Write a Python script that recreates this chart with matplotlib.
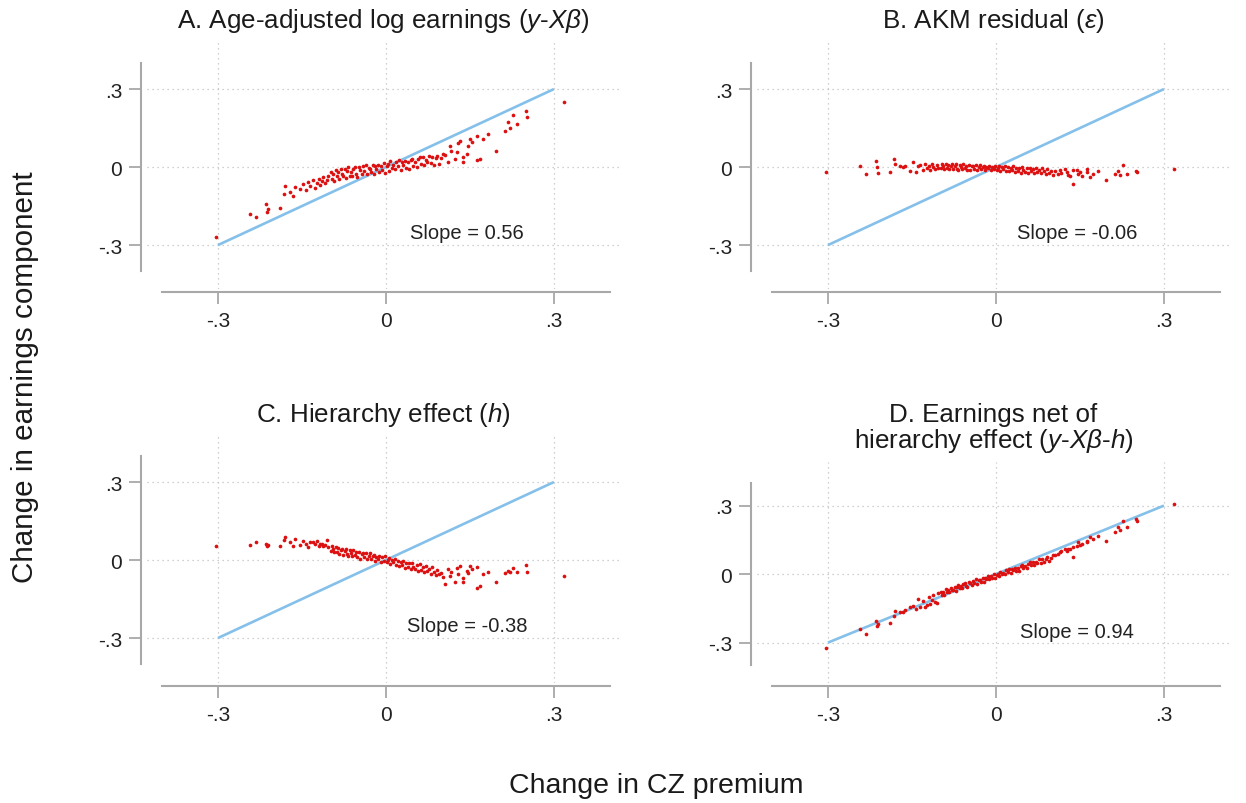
import numpy as np
import matplotlib.pyplot as plt

plt.rcParams['font.family'] = ['Liberation Sans', 'DejaVu Sans']
plt.rcParams['mathtext.fontset'] = 'custom'
plt.rcParams['mathtext.rm'] = 'Liberation Sans'
plt.rcParams['mathtext.it'] = 'Liberation Sans:italic'

# change in CZ premium (shared by all four panels)
x_premium = [
    -0.304, -0.243, -0.232, -0.214, -0.212, -0.210, -0.189, -0.182, -0.180, -0.171,
    -0.166, -0.162, -0.154, -0.148, -0.142, -0.139, -0.135, -0.131, -0.127, -0.124,
    -0.120, -0.118, -0.115, -0.112, -0.109, -0.106, -0.103,
    -0.099, -0.097, -0.094, -0.093, -0.090, -0.088, -0.086, -0.083, -0.081, -0.079,
    -0.076, -0.074, -0.072, -0.069, -0.067, -0.065, -0.062, -0.060, -0.058, -0.055,
    -0.053, -0.051, -0.048, -0.046, -0.043, -0.041, -0.039, -0.036, -0.034, -0.031,
    -0.029, -0.027, -0.024, -0.022, -0.019, -0.017, -0.014, -0.012, -0.009, -0.007,
    -0.004, -0.002, 0.001, 0.003, 0.006, 0.008, 0.011, 0.013, 0.016, 0.018,
    0.021, 0.023, 0.026, 0.028, 0.031, 0.034, 0.036, 0.039, 0.041, 0.044,
    0.047, 0.049, 0.052, 0.055, 0.057, 0.060, 0.063, 0.066, 0.068, 0.071,
    0.074, 0.077, 0.080, 0.083, 0.086, 0.089, 0.092, 0.095, 0.098, 0.101,
    0.105, 0.110, 0.114, 0.117, 0.123, 0.126, 0.129, 0.132, 0.137, 0.138,
    0.144, 0.147, 0.150, 0.153, 0.162, 0.162, 0.168, 0.174, 0.183, 0.196,
    0.212, 0.218, 0.221, 0.227, 0.234, 0.251, 0.252, 0.318,
]

# A. age-adjusted log earnings
y_age_adj = [
    -0.270, -0.181, -0.193, -0.142, -0.173, -0.160, -0.158, -0.104, -0.073, -0.096,
    -0.112, -0.077, -0.085, -0.066, -0.090, -0.058, -0.074, -0.050, -0.082, -0.060,
    -0.046, -0.069, -0.055, -0.040, -0.063, -0.048, -0.035,
    -0.020, -0.046, -0.026, -0.052, -0.011, -0.034, -0.019, -0.045, -0.006, -0.028,
    -0.034, -0.009, -0.043, -0.016, 0.001, -0.033, -0.018, -0.035, -0.008, 0.001,
    -0.025, -0.037, -0.001, -0.012, -0.027, 0.004, -0.017, 0.009, -0.028, -0.002,
    -0.008, -0.020, 0.008, -0.026, 0.004, -0.007, 0.009, -0.018, 0.003, -0.011,
    0.017, -0.021, 0.005, 0.012, -0.014, 0.023, -0.003, 0.007, -0.007, 0.021,
    0.003, 0.029, -0.010, 0.018, 0.009, 0.025, -0.003, 0.019, -0.009, 0.026,
    0.032, 0.006, 0.019, -0.001, 0.031, 0.040, 0.012, 0.037, 0.008, 0.027,
    0.018, 0.044, 0.014, 0.037, 0.008, 0.036, 0.044, 0.013, 0.034, 0.052,
    0.045, 0.020, 0.082, 0.063, 0.031, 0.057, 0.092, 0.101, 0.040, 0.018,
    0.050, 0.080, 0.108, 0.095, 0.120, 0.028, 0.031, 0.108, 0.127, 0.063,
    0.138, 0.173, 0.150, 0.200, 0.165, 0.215, 0.192, 0.251,
]

# B. AKM residual
y_akm_resid = [
    -0.020, 0.005, -0.027, 0.024, -0.001, -0.023, -0.020, 0.031, 0.012, 0.003,
    -0.001, 0.005, -0.014, 0.018, -0.018, 0.005, 0.008, -0.010, 0.012, -0.004,
    0.006, -0.012, 0.010, 0.002, -0.006, 0.008, -0.003,
    -0.004, 0.012, 0.004, -0.006, 0.012, -0.003, 0.008, -0.009, 0.006, 0.010,
    -0.009, 0.003, 0.010, -0.006, -0.011, 0.008, 0.002, -0.007, 0.011, -0.003,
    0.005, -0.010, 0.009, -0.013, 0.003, 0.005, -0.007, 0.008, -0.010, -0.001,
    0.009, -0.008, 0.000, 0.006, -0.013, 0.002, -0.005, 0.005, -0.013, 0.002,
    -0.008, 0.006, -0.011, -0.002, 0.006, -0.015, 0.001, -0.008, 0.003, -0.014,
    0.000, -0.015, -0.004, -0.012, 0.003, -0.019, -0.002, -0.014, -0.003, -0.021,
    0.000, -0.012, -0.018, -0.005, -0.023, -0.002, -0.017, -0.006, -0.022, -0.003,
    -0.018, -0.012, -0.024, -0.003, -0.017, -0.027, -0.009, -0.022, -0.016, -0.029,
    -0.015, -0.025, -0.010, -0.022, -0.008, -0.020, -0.030, -0.033, -0.012, -0.065,
    -0.012, -0.028, -0.018, -0.033, -0.020, -0.008, -0.040, -0.025, -0.014, -0.049,
    -0.027, -0.014, -0.030, 0.008, -0.027, -0.014, -0.020, -0.008,
]

# C. hierarchy effect
y_hierarchy = [
    0.053, 0.058, 0.068, 0.062, 0.053, 0.058, 0.055, 0.078, 0.087, 0.070,
    0.055, 0.081, 0.058, 0.074, 0.062, 0.049, 0.068, 0.070, 0.062, 0.074,
    0.055, 0.062, 0.060, 0.053, 0.058, 0.077, 0.049,
    0.034, 0.053, 0.042, 0.029, 0.052, 0.032, 0.045, 0.022, 0.040, 0.044,
    0.020, 0.035, 0.043, 0.022, 0.014, 0.037, 0.028, 0.016, 0.039, 0.020,
    0.029, 0.010, 0.032, 0.004, 0.023, 0.026, 0.010, 0.028, 0.004, 0.014,
    0.026, 0.003, 0.014, 0.020, -0.005, 0.013, 0.004, 0.015, -0.008, 0.011,
    -0.003, 0.014, -0.009, 0.002, 0.009, -0.017, 0.002, -0.009, 0.003, -0.019,
    -0.003, -0.023, -0.009, -0.020, -0.002, -0.030, -0.010, -0.026, -0.013, -0.036,
    -0.011, -0.027, -0.036, -0.020, -0.044, -0.017, -0.037, -0.026, -0.046, -0.024,
    -0.044, -0.036, -0.053, -0.028, -0.046, -0.059, -0.038, -0.055, -0.049, -0.066,
    -0.092, -0.035, -0.060, -0.045, -0.083, -0.030, -0.054, -0.022, -0.083, -0.070,
    -0.041, -0.050, -0.024, -0.035, -0.028, -0.109, -0.101, -0.054, -0.047, -0.086,
    -0.050, -0.041, -0.047, -0.032, -0.045, -0.019, -0.047, -0.060,
]

# D. earnings net of hierarchy effect
y_net = [
    -0.322, -0.240, -0.262, -0.205, -0.226, -0.218, -0.213, -0.182, -0.160, -0.166,
    -0.167, -0.158, -0.143, -0.140, -0.152, -0.107, -0.142, -0.120, -0.144, -0.134,
    -0.101, -0.131, -0.115, -0.093, -0.121, -0.125, -0.084,
    -0.077, -0.090, -0.077, -0.090, -0.067, -0.078, -0.068, -0.080, -0.059, -0.070,
    -0.070, -0.056, -0.072, -0.057, -0.047, -0.063, -0.053, -0.061, -0.045, -0.039,
    -0.051, -0.057, -0.036, -0.040, -0.047, -0.029, -0.039, -0.023, -0.042, -0.026,
    -0.028, -0.033, -0.017, -0.033, -0.016, -0.020, -0.010, -0.022, -0.010, -0.016,
    0.000, -0.018, -0.002, 0.002, -0.009, 0.010, -0.001, 0.006, 0.000, 0.016,
    0.008, 0.023, 0.005, 0.021, 0.017, 0.028, 0.014, 0.028, 0.015, 0.034,
    0.040, 0.027, 0.036, 0.027, 0.045, 0.052, 0.039, 0.053, 0.040, 0.051,
    0.049, 0.064, 0.050, 0.064, 0.051, 0.067, 0.074, 0.059, 0.072, 0.083,
    0.085, 0.090, 0.095, 0.100, 0.108, 0.102, 0.112, 0.110, 0.118, 0.073,
    0.125, 0.139, 0.128, 0.131, 0.146, 0.140, 0.161, 0.155, 0.168, 0.146,
    0.183, 0.205, 0.195, 0.233, 0.205, 0.241, 0.233, 0.307,
]

titles = [
    r"A. Age-adjusted log earnings ($y$-$X\beta$)",
    r"B. AKM residual ($\varepsilon$)",
    r"C. Hierarchy effect ($h$)",
    "D. Earnings net of\n" + r"hierarchy effect ($y$-$X\beta$-$h$)",
]
slope_labels = ["Slope = 0.56", "Slope = -0.06", "Slope = -0.38", "Slope = 0.94"]
ticks = [-0.3, 0, 0.3]
tick_labels = ["-.3", "0", ".3"]
ref_line = [-0.3, 0.3]  # 45-degree line

RED = "#dc1010"
BLUE = "#84c0ea"
GREY = "#a8a8a8"

W, H = 1246, 804
fig = plt.figure(figsize=(W / 100, H / 100), dpi=100)

# axes boxes in pixels: left, top, right, bottom, and y-limits
boxes = [
    (147, 43, 620, 290, (-0.469, 0.481)),
    (757, 43, 1230, 290, (-0.469, 0.481)),
    (147, 437, 620, 684, (-0.473, 0.477)),
    (757, 463, 1230, 684, (-0.477, 0.491)),
]
series = [y_age_adj, y_akm_resid, y_hierarchy, y_net]

for i in range(4):
    l, t, r, b, ylim = boxes[i]
    ax = fig.add_axes([l / W, 1 - b / H, (r - l) / W, (b - t) / H])
    ax.set_xlim(-0.4268, 0.418)
    ax.set_ylim(*ylim)

    ax.plot(ref_line, ref_line, color=BLUE, lw=1.9, zorder=2, solid_capstyle='butt')
    ax.scatter(x_premium, series[i], s=7, color=RED, linewidths=0, zorder=3)

    ax.set_xticks(ticks)
    ax.set_yticks(ticks)
    ax.set_xticklabels(tick_labels)
    ax.set_yticklabels(tick_labels)
    ax.grid(True, linestyle=(0, (1, 3)), color="#c0c0c0", lw=0.9, zorder=0)

    for s in ["top", "right"]:
        ax.spines[s].set_visible(False)
    ax.spines["left"].set_position(("outward", 4.3))
    ax.spines["bottom"].set_position(("outward", 2.2))
    for s in ["left", "bottom"]:
        ax.spines[s].set_bounds(-0.4, 0.4)
        ax.spines[s].set_color(GREY)
        ax.spines[s].set_linewidth(1.5)
    ax.tick_params(length=8.5, width=1.3, color=GREY, labelsize=15,
                   labelcolor="#222222", pad=5)

    ax.text(0.145, -0.25, slope_labels[i], ha="center", va="center",
            fontsize=14.5, color="#222222")
    ax.set_title(titles[i], fontsize=18.7, color="#1a1a1a", pad=10.5, linespacing=1.0)

fig.text(25 / W, 1 - 377 / H, "Change in earnings component", rotation=90,
         ha="center", va="center", fontsize=21.3, color="#1a1a1a")
fig.text(656 / W, 1 - 786 / H, "Change in CZ premium",
         ha="center", va="center", fontsize=20.5, color="#1a1a1a")

fig.savefig("out.png", dpi=100)
